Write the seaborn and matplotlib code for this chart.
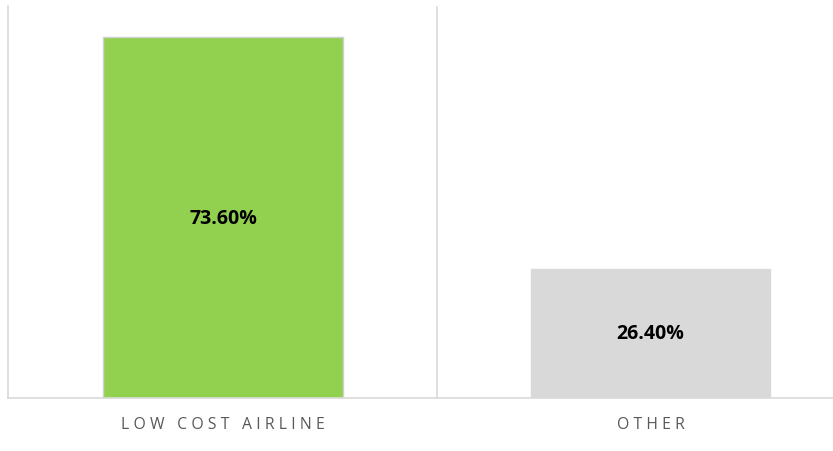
import matplotlib
matplotlib.use("Agg")
import matplotlib.pyplot as plt
import seaborn as sns
import pandas as pd

categories = ["LOW COST AIRLINE", "OTHER"]
values = [73.6, 26.4]
colors = ["#92D050", "#D9D9D9"]
value_labels = ["73.60%", "26.40%"]

sns.set_theme(style="white")
plt.rcParams['font.family'] = ['Open Sans', 'DejaVu Sans']

df = pd.DataFrame({"cat": categories, "val": values})

fig = plt.figure(figsize=(8.33, 4.52), dpi=100)
ax = fig.add_axes([8/833, 53/452, 825/833, 392/452])

sns.barplot(data=df, x="cat", y="val", hue="cat", palette=colors, legend=False,
            width=0.56, ax=ax, saturation=1)
for p, c in zip(ax.patches, colors):
    p.set_edgecolor("#D0D0D0" if c == "#92D050" else c)
    p.set_linewidth(1.0)

ax.set_ylim(0, 80)
ax.set_xlim(-0.503, 1.427)
ax.axvline(0.5, color="#D9D9D9", lw=1.2, zorder=0)

for i, (v, lab) in enumerate(zip(values, value_labels)):
    ax.text(i, v / 2, lab, ha="center", va="center", fontsize=14,
            fontweight="bold", color="#000000")

def spaced(s):
    return "\u2009\u200a".join(list(s))

ax.set_xticks(range(len(categories)))
ax.set_xticklabels([spaced(c) for c in categories], fontsize=11.3, color="#595959")
ax.tick_params(axis="x", length=0, pad=13)
ax.set_yticks([])
ax.set_xlabel("")
ax.set_ylabel("")

for s in ["top", "right"]:
    ax.spines[s].set_visible(False)
for s in ["left", "bottom"]:
    ax.spines[s].set_color("#D9D9D9")
    ax.spines[s].set_linewidth(1.2)

fig.savefig("out.png", dpi=100)
